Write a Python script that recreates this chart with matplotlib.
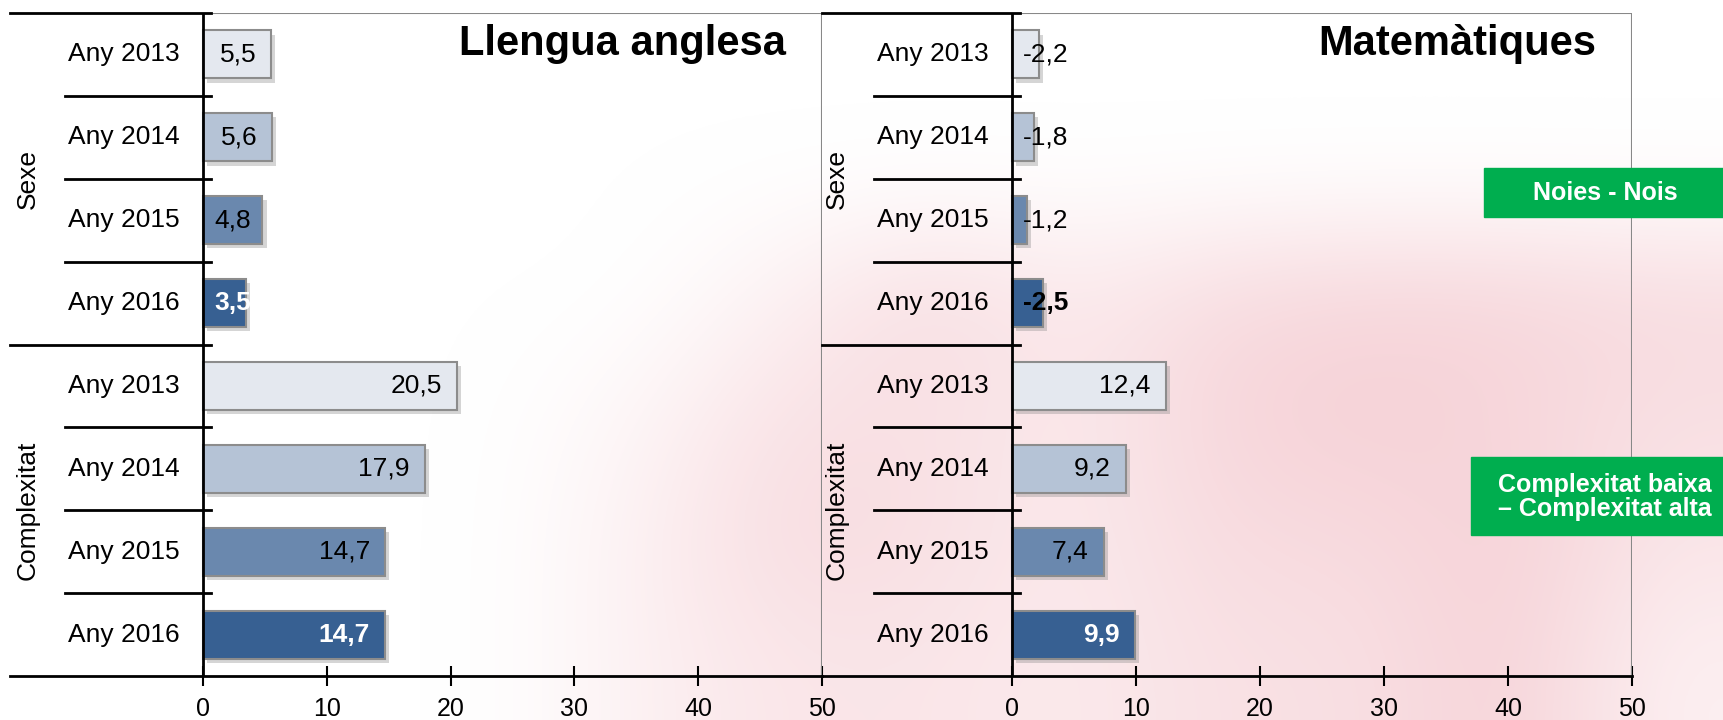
import matplotlib
matplotlib.use('Agg')
import matplotlib.pyplot as plt
import matplotlib.patheffects as pe
from matplotlib.colors import LinearSegmentedColormap
from matplotlib.patches import Rectangle
import numpy as np

plt.rcParams['font.family'] = ['Liberation Sans', 'DejaVu Sans']

# data
years = ['Any 2013', 'Any 2014', 'Any 2015', 'Any 2016']
groups = ['Sexe', 'Complexitat']
angles_sexe = [5.5, 5.6, 4.8, 3.5]
angles_compl = [20.5, 17.9, 14.7, 14.7]
mates_sexe = [-2.2, -1.8, -1.2, -2.5]
mates_compl = [12.4, 9.2, 7.4, 9.9]
xticks = [0, 10, 20, 30, 40, 50]
bar_colors = ['#E4E8EF', '#B5C3D6', '#6A88AE', '#376092']

W, H = 1724, 720
fig = plt.figure(figsize=(W / 100, H / 100), dpi=100)

# faint pink watermark in the background
bg_grid = np.array([
    [0, 0, 0, 0, 0, 0, 0, 0, 0, 0, 0, 0],
    [0, 0, 0, 0, 0, 0, 0, 0, 0, 0, 0, 0],
    [0, 0, 0, 0, 0, 0.3, 0.7, 0.4, 0.7, 0.8, 0.8, 0.7],
    [0, 0, 0, 0, 0.2, 0.6, 0.6, 0.4, 0.8, 0.9, 0.8, 0.6],
    [0, 0, 0, 0, 0.3, 0.7, 0.6, 0.4, 0.7, 0.7, 0.9, 0.5],
    [0, 0, 0, 0, 0.3, 0.5, 0.5, 0.4, 0.6, 0.6, 0.9, 0.3],
])
bg = fig.add_axes([0, 0, 1, 1], zorder=-1)
pink = LinearSegmentedColormap.from_list('pink', ['#FFFFFF', '#F5CCD2'])
bg.imshow(bg_grid, cmap=pink, vmin=0, vmax=1, interpolation='bicubic',
          extent=(0, W, H, 0), aspect='auto')
bg.axis('off')

TOP, BOT = 13, 676
ROW = (BOT - TOP) / 8


def fmt(v):
    return f'{v:.1f}'.replace('.', ',')


def panel(left_px, zero_px, right_px, sexe, compl, title):
    ax = fig.add_axes([left_px / W, (H - BOT) / H, (right_px - left_px) / W, (BOT - TOP) / H])
    ax.set_facecolor('none')
    scale = (right_px - zero_px) / 50
    ax.set_xlim(-(zero_px - left_px) / scale, 50)
    ax.set_ylim(7.5, -0.5)
    px = lambda p: p / scale  # pixel offset from zero -> data units
    py = lambda p: -0.5 + (p - TOP) / ROW

    vals = sexe + compl
    y = np.arange(8)
    bars = ax.barh(y, np.abs(vals), height=0.58, color=bar_colors * 2,
                   edgecolor='#8C8C8C', linewidth=1.5, zorder=3)
    for b in bars:
        b.set_path_effects([pe.SimplePatchShadow(offset=(3, -3), shadow_rgbFace='#888888', alpha=0.35),
                            pe.Normal()])

    # frame lines
    ax.axhline(-0.5, color='#888888', lw=1.5, zorder=2)
    ax.axvline(50, color='#888888', lw=1.5, zorder=2)
    ax.axvline(0, color='black', lw=2, zorder=5)
    for yb in [-0.5, 3.5]:
        ax.plot([ax.get_xlim()[0], px(8)], [yb, yb], color='black', lw=2, zorder=5, clip_on=False)
    for yb in [0.5, 1.5, 2.5, 4.5, 5.5, 6.5]:
        ax.plot([px(-138), px(8)], [yb, yb], color='black', lw=2, zorder=5)

    for s in ['top', 'left', 'right']:
        ax.spines[s].set_visible(False)
    ax.spines['bottom'].set_linewidth(2)
    ax.set_xticks(xticks)
    ax.set_xticklabels([str(t) for t in xticks])
    ax.tick_params(axis='x', direction='inout', length=14, width=1.5, labelsize=18, pad=8)
    ax.set_yticks([])

    for i, yr in enumerate(years * 2):
        ax.text(px(-135), i, yr, ha='left', va='center', fontsize=19)
    ax.text(px(-175), 1.5, groups[0], rotation=90, ha='center', va='center', fontsize=19)
    ax.text(px(-175), 5.5, groups[1], rotation=90, ha='center', va='center', fontsize=19)

    ax.text(px(right_px - zero_px - 36), py(55), title, ha='right', va='baseline',
            fontsize=30, fontweight='bold')

    # value labels, Excel-like "inside end"
    fig.canvas.draw()
    rend = fig.canvas.get_renderer()
    for i, v in enumerate(vals):
        last = i % 4 == 3
        t = ax.text(abs(v) - px(15), i, fmt(v), ha='right', va='center', fontsize=19,
                    fontweight='bold' if last else 'normal', zorder=6)
        w = t.get_window_extent(rend).width
        bar_w = abs(v) * scale
        if w + 25 > bar_w:
            t.set_x(px(11))
            t.set_ha('left')
        if last:
            t.set_color('white' if w < bar_w else 'black')
    return ax


panel(10, 203, 822, angles_sexe, angles_compl, 'Llengua anglesa')
panel(822, 1012, 1632, mates_sexe, mates_compl, 'Matemàtiques')

# green legend boxes
green = '#00AE4F'
fig.add_artist(Rectangle((1484 / W, 1 - 217 / H), 240 / W, 49 / H,
                         transform=fig.transFigure, color=green, zorder=10))
fig.text(1605 / W, 1 - 192.5 / H, 'Noies - Nois', color='white', fontsize=18,
         fontweight='bold', ha='center', va='center', zorder=11)
fig.add_artist(Rectangle((1471 / W, 1 - 535 / H), 253 / W, 78 / H,
                         transform=fig.transFigure, color=green, zorder=10))
fig.text(1605 / W, 1 - 497 / H, 'Complexitat baixa\n– Complexitat alta', color='white',
         fontsize=18, fontweight='bold', ha='center', va='center', linespacing=1.05, zorder=11)

fig.savefig('out.png', dpi=100)
